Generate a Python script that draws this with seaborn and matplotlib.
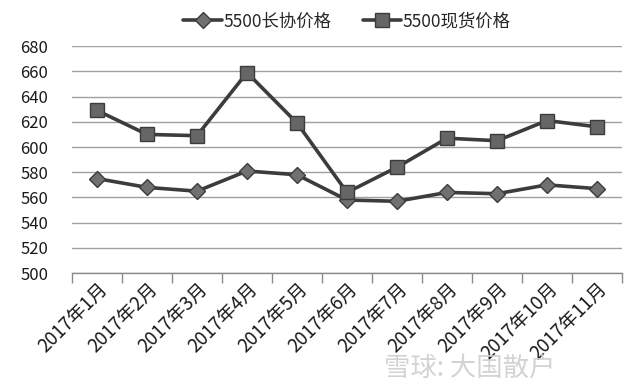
import numpy as np
import pandas as pd
import matplotlib
matplotlib.use("Agg")
import matplotlib.pyplot as plt
import seaborn as sns

months = ["2017年1月", "2017年2月", "2017年3月", "2017年4月", "2017年5月", "2017年6月",
          "2017年7月", "2017年8月", "2017年9月", "2017年10月", "2017年11月"]
long_term = [575, 568, 565, 581, 578, 558, 557, 564, 563, 570, 567]
spot = [629, 610, 609, 659, 619, 564, 584, 607, 605, 621, 616]
y_ticks = [500, 520, 540, 560, 580, 600, 620, 640, 660, 680]

sns.set_theme(style="white")
plt.rcParams['font.family'] = ['Noto Sans CJK SC', 'DejaVu Sans']

df = pd.DataFrame({"pos": np.arange(len(months)), "long": long_term, "spot": spot})

fig = plt.figure(figsize=(6.4, 3.81), dpi=100)
ax = fig.add_axes([0.1125, 0.283, 0.8595, 0.596])

line_c = "#3c3c3c"
sns.lineplot(data=df, x="pos", y="long", ax=ax, color=line_c, lw=2.6,
             marker="D", markersize=8, markerfacecolor="#707070",
             markeredgecolor="#3c3c3c", markeredgewidth=1, label="5500长协价格")
sns.lineplot(data=df, x="pos", y="spot", ax=ax, color=line_c, lw=2.6,
             marker="s", markersize=10, markerfacecolor="#666666",
             markeredgecolor="#3c3c3c", markeredgewidth=1, label="5500现货价格")

ax.set_ylim(500, 680)
ax.set_yticks(y_ticks)
ax.set_xlim(-0.5, len(months) - 0.5)
ax.grid(axis="y", color="#a0a0a0", lw=1)
ax.set_axisbelow(True)

# ticks between categories, labels at category centres
ax.set_xticks(np.arange(-0.5, len(months)), labels=[])
ax.set_xticks(np.arange(len(months)), labels=months, minor=True)
ax.tick_params(axis="x", which="major", direction="out", length=7, color="#8a8a8a",
               bottom=True, width=1)
ax.tick_params(axis="x", which="minor", length=0, pad=4)
for t in ax.get_xticklabels(minor=True):
    t.set_rotation(45)
    t.set_ha("right")
    t.set_rotation_mode("anchor")
    t.set_fontsize(13.5)
    t.set_color("#1a1a1a")
ax.tick_params(axis="y", length=0, labelsize=12, labelcolor="#1a1a1a", pad=17)
ax.set_xlabel("")
ax.set_ylabel("")

for s in ["top", "right", "left"]:
    ax.spines[s].set_visible(False)
ax.spines["bottom"].set_color("#8a8a8a")
ax.spines["bottom"].set_linewidth(1)

ax.legend(loc="lower center", bbox_to_anchor=(0.5, 1.0), ncol=2, frameon=False,
          fontsize=12.5, handlelength=2.2, columnspacing=1.8, handletextpad=0.1)

fig.text(0.60, 0.015, "雪球: 大国散户", fontsize=19, color="#cfcfcf", alpha=0.9)

fig.savefig("out.png", dpi=100)
